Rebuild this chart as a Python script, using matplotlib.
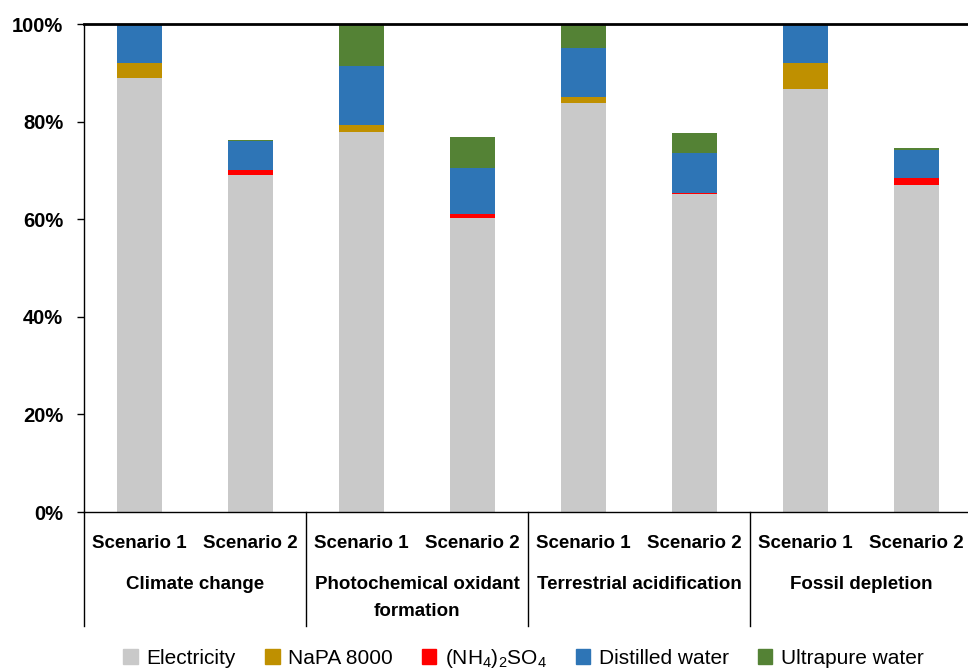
import matplotlib.pyplot as plt
import matplotlib.patches as mpatches
import matplotlib.transforms as mtransforms
from matplotlib import font_manager
import numpy as np

names = {f.name for f in font_manager.fontManager.ttflist}
narrow = 'Liberation Sans Narrow' if 'Liberation Sans Narrow' in names else 'Liberation Sans'
plt.rcParams['font.family'] = [narrow, 'DejaVu Sans']

categories = ['Climate change', 'Photochemical oxidant\nformation',
              'Terrestrial acidification', 'Fossil depletion']
scenarios = ['Scenario 1', 'Scenario 2']

# contribution (%) per bar: CC S1, CC S2, POF S1, POF S2, TA S1, TA S2, FD S1, FD S2
electricity = [89.0, 69.1, 77.9, 60.3, 83.9, 65.1, 86.7, 67.1]
napa = [2.95, 0.0, 1.4, 0.0, 1.1, 0.0, 5.3, 0.0]
ammonium = [0.0, 1.0, 0.0, 0.8, 0.0, 0.35, 0.0, 1.3]
distilled = [7.8, 5.9, 12.0, 9.3, 10.0, 8.1, 7.7, 5.7]
ultrapure = [0.25, 0.3, 8.7, 6.4, 5.0, 4.1, 0.3, 0.5]

series = [
    ('Electricity', electricity, '#C9C9C9'),
    ('NaPA 8000', napa, '#BF9000'),
    (r'$\mathregular{(NH_4)_2SO_4}$', ammonium, '#FF0000'),
    ('Distilled water', distilled, '#2E75B6'),
    ('Ultrapure water', ultrapure, '#548235'),
]

W, H = 968, 671
fig = plt.figure(figsize=(W / 100, H / 100), dpi=100)
ax = fig.add_axes([84 / W, (H - 512) / H, (972 - 84) / W, (512 - 24) / H])

x = np.arange(len(electricity))
bottom = np.zeros(len(x))
handles = []
for label, vals, color in series:
    vals = np.array(vals)
    ax.bar(x, vals, width=0.4, bottom=bottom, color=color, edgecolor='none')
    bottom += vals
    handles.append(mpatches.Patch(color=color, label=label))

ax.set_xlim(-0.5, len(x) - 0.5)
ax.set_ylim(0, 100)
ax.set_yticks(np.arange(0, 101, 20))
ax.set_yticklabels([f'{v}%' for v in range(0, 101, 20)], fontsize=14.5, fontweight='bold')
ax.tick_params(axis='y', length=5, width=1, direction='out', pad=10)
ax.set_xticks([])
ax.spines['right'].set_visible(False)
ax.spines['top'].set_linewidth(2)
ax.spines['left'].set_linewidth(1)
ax.spines['bottom'].set_linewidth(1)

# two-level category axis below the plot
trans = mtransforms.blended_transform_factory(ax.transData, ax.transAxes)
px = 1 / 488
for i, xi in enumerate(x):
    ax.text(xi, -31 * px, scenarios[i % 2], transform=trans, ha='center', va='center',
            fontsize=13.5, fontweight='bold')
for g, name in enumerate(categories):
    ax.text(2 * g + 0.5, -64 * px, name, transform=trans, ha='center', va='top',
            fontsize=13.5, fontweight='bold', linespacing=1.75)
for xd in [-0.5, 1.5, 3.5, 5.5]:
    ax.plot([xd, xd], [0, -114 * px], transform=trans, color='black', lw=1, clip_on=False)

leg = fig.legend(handles=handles, loc='center', bbox_to_anchor=(523.5 / W, 13 / H), ncol=5,
                 frameon=False, fontsize=15, handlelength=0.7, handleheight=0.7,
                 handletextpad=0.4, columnspacing=1.4)

fig.savefig('out.png', dpi=100)
